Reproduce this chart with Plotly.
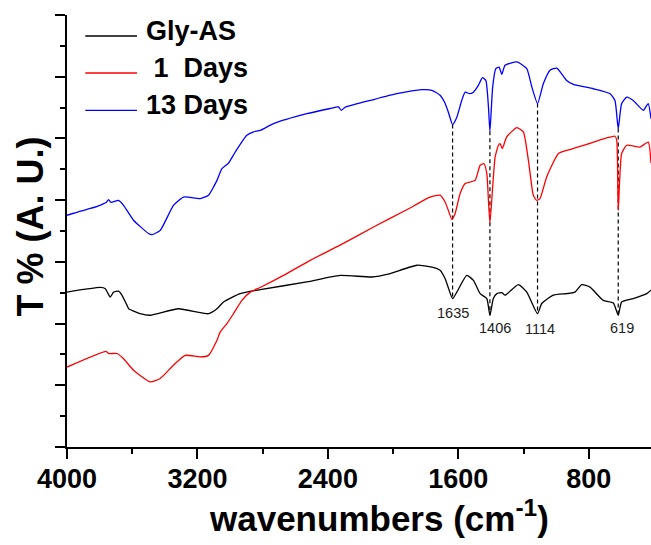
import plotly.graph_objects as go

# ---------------- data ----------------
series_names = ["Gly-AS", " 1  Days", "13 Days"]

wn_gly = [4000, 3796, 3765, 3735, 3714, 3684, 3663, 3632, 3622, 3602, 3551, 3489,
          3316, 3132, 3080, 3040, 2938, 2815, 2529, 2325, 2130, 2030, 1854, 1762,
          1712, 1681, 1635, 1609, 1548, 1507, 1466, 1425, 1406, 1385, 1364, 1333,
          1313, 1232, 1180, 1114, 1088, 1017, 935, 884, 843, 792, 711, 649, 619,
          598, 527, 444, 418]
t_gly = [5.02, 5.17, 5.13, 4.86, 5.02, 5.05, 4.92, 4.59, 4.48, 4.43, 4.32, 4.27,
         4.48, 4.32, 4.48, 4.70, 4.97, 5.10, 5.35, 5.56, 5.51, 5.60, 5.89, 5.83,
         5.73, 5.46, 4.81, 5.02, 5.56, 5.40, 4.97, 4.81, 4.27, 4.81, 4.97, 5.00,
         4.92, 5.26, 5.02, 4.32, 4.65, 4.92, 4.97, 5.02, 5.26, 5.18, 4.75, 4.67, 4.27,
         4.70, 4.81, 4.97, 5.08]

wn_1d = [4000, 3760, 3745, 3693, 3653, 3592, 3489, 3428, 3347, 3275, 3183, 3132,
         3080, 3060, 3019, 2979, 2927, 2876, 2815, 2672, 2508, 2325, 2120, 1916,
         1773, 1712, 1681, 1661, 1640, 1620, 1589, 1558, 1497, 1466, 1442, 1425,
         1415, 1406, 1389, 1374, 1354, 1344, 1330, 1303, 1241, 1201, 1170, 1140,
         1119, 1099, 1058, 986, 935, 812, 639, 628, 619, 598, 567, 486, 435, 418]
t_1d = [2.59, 3.10, 3.03, 3.03, 2.86, 2.49, 2.11, 2.22, 2.65, 2.97, 2.92, 2.97,
        3.46, 3.73, 4.00, 4.32, 4.75, 5.02, 5.17, 5.56, 6.05, 6.54, 7.13, 7.69,
        8.10, 8.16, 7.94, 7.67, 7.38, 7.56, 8.21, 8.54, 8.64, 9.13, 9.18, 8.86,
        7.99, 7.26, 8.43, 9.40, 9.78, 9.83, 9.67, 10.05, 10.35, 10.21, 9.29, 8.16,
        7.99, 8.05, 8.75, 9.51, 9.61, 9.81, 10.07, 9.94, 7.67, 9.51, 9.78, 9.72, 9.88, 9.20]

wn_13d = [4000, 3857, 3790, 3760, 3745, 3730, 3684, 3653, 3592, 3500, 3479, 3428,
          3347, 3285, 3183, 3132, 3101, 3080, 3050, 3011, 2968, 2897, 2856, 2815,
          2733, 2529, 2386, 2335, 2318, 2294, 2120, 1977, 1824, 1762, 1712, 1681,
          1661, 1635, 1609, 1579, 1558, 1530, 1507, 1477, 1452, 1431, 1415, 1406,
          1389, 1370, 1350, 1333, 1313, 1241, 1180, 1149, 1114, 1078, 1037, 996,
          935, 894, 772, 669, 639, 619, 598, 567, 527, 465, 435, 418]
t_13d = [7.51, 7.73, 7.85, 7.92, 8.02, 7.93, 7.99, 7.83, 7.35, 6.92, 6.88, 7.02,
         7.83, 8.10, 8.05, 8.16, 8.43, 8.64, 9.02, 9.19, 9.56, 10.10, 10.21, 10.26,
         10.48, 10.80, 10.97, 11.02, 10.91, 11.01, 11.26, 11.45, 11.58, 11.56, 11.40, 11.14,
         10.85, 10.45, 10.69, 11.23, 11.50, 11.45, 11.50, 11.72, 11.97, 11.88, 11.02, 10.23,
         11.67, 12.26, 12.31, 12.08, 12.37, 12.48, 12.26, 11.67, 11.13, 11.78, 12.21, 12.28,
         11.88, 11.75, 11.61, 11.45, 11.23, 10.32, 11.13, 11.34, 11.23, 10.91, 11.13, 10.64]

peaks = [1635, 1406, 1114, 619]
peak_labels = ["1635", "1406", "1114", "619"]

x_ticks = [4000, 3200, 2400, 1600, 800]
x_minor = [3600, 2800, 2000, 1200]
y_major = [0, 2, 4, 6, 8, 10, 12, 14]
y_minor = [1, 3, 5, 7, 9, 11, 13]

# ---------------- figure ----------------
FONT = "Liberation Sans, Arial, Helvetica, sans-serif"
colors = ["#000000", "#FF0000", "#0000FF"]
series = [(wn_gly, t_gly), (wn_1d, t_1d), (wn_13d, t_13d)]

fig = go.Figure()

# dashed guide lines from the 13-day minimum down to the Gly-AS minimum
top_lookup = dict(zip(wn_13d, t_13d))
bot_lookup = dict(zip(wn_gly, t_gly))
for p in peaks:
    fig.add_trace(go.Scatter(x=[p, p], y=[top_lookup[p], bot_lookup[p]], mode="lines",
                             line=dict(color="black", width=1.2, dash="4px,3px"),
                             showlegend=False, hoverinfo="skip"))

for (wx, ty), name, col in zip(series, series_names, colors):
    fig.add_trace(go.Scatter(x=wx, y=ty, mode="lines", name=name.strip(),
                             line=dict(color=col, width=1.3, shape="spline", smoothing=0.5),
                             showlegend=False))

# peak labels
label_shift = [(0, -14), (5, -13), (2, -15), (4, -13)]
for p, lab, (dx, dy) in zip(peaks, peak_labels, label_shift):
    fig.add_annotation(x=p, y=bot_lookup[p], text=lab, showarrow=False,
                       xshift=dx, yshift=dy, xanchor="center", yanchor="middle",
                       font=dict(family=FONT, size=14.5, color="#222222"))

# hand-drawn legend (long line samples like the original)
leg_line_y = [0.9514, 0.8657, 0.7794]
leg_text_y = [0.9635, 0.8765, 0.7915]
for name, col, ly, ty in zip(series_names, colors, leg_line_y, leg_text_y):
    fig.add_shape(type="line", xref="paper", yref="paper", x0=0.0313, x1=0.1198,
                  y0=ly, y1=ly, line=dict(color=col, width=1.3))
    fig.add_annotation(xref="paper", yref="paper", x=0.131, y=ty,
                       text=name.replace(" ", "\u00a0"), showarrow=False,
                       xanchor="left", yanchor="middle",
                       font=dict(family=FONT, size=27, color="black", weight="bold"))

# axis titles
fig.add_annotation(xref="paper", yref="paper", x=0.5336, y=-0.16,
                   text="wavenumbers (cm<sup>-1</sup>)", showarrow=False,
                   xanchor="center", yanchor="middle",
                   font=dict(family=FONT, size=35, color="black", weight="bold"))
fig.add_annotation(xref="paper", yref="paper", x=-0.0628, y=0.511,
                   text="T % (A. U.)", showarrow=False, textangle=-90,
                   xanchor="center", yanchor="middle",
                   font=dict(family=FONT, size=36, color="black", weight="bold"))

fig.update_layout(
    width=651, height=545,
    margin=dict(l=67, r=0, t=15, b=98, pad=0),
    paper_bgcolor="white", plot_bgcolor="white",
    showlegend=False,
    xaxis=dict(range=[4000, 418], tickmode="array", tickvals=x_ticks,
               ticktext=[str(v) for v in x_ticks],
               showline=True, linecolor="black", linewidth=2,
               ticks="outside", ticklen=10, tickwidth=2, tickcolor="black",
               ticklabelstandoff=-3,
               minor=dict(tickmode="array", tickvals=x_minor, ticks="outside",
                          ticklen=5, tickwidth=2, tickcolor="black", showgrid=False),
               tickfont=dict(family=FONT, size=27, color="black", weight="bold"),
               showgrid=False, zeroline=False),
    yaxis=dict(range=[0, 14], tickmode="array", tickvals=y_major,
               showticklabels=False,
               showline=True, linecolor="black", linewidth=2,
               ticks="outside", ticklen=10, tickwidth=2, tickcolor="black",
               minor=dict(tickmode="array", tickvals=y_minor, ticks="outside",
                          ticklen=5, tickwidth=2, tickcolor="black", showgrid=False),
               showgrid=False, zeroline=False),
)

fig.write_html("out.html", config={"displayModeBar": False},
               post_script="document.body.style.margin='0px';document.body.style.padding='0px';")
